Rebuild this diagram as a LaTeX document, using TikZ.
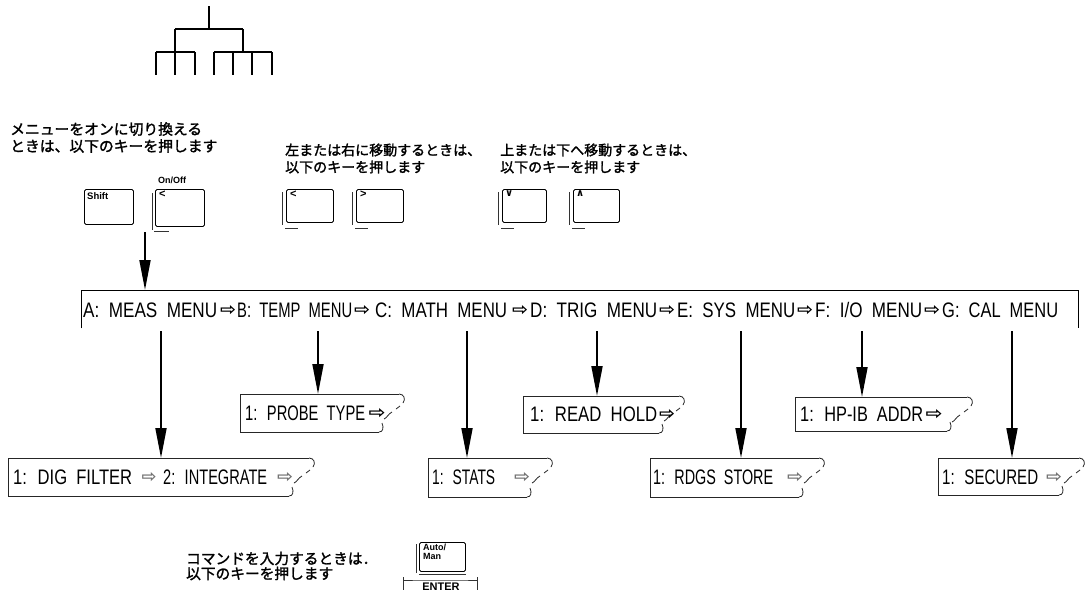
\documentclass[tikz,border=0pt]{standalone}
\usepackage{fontspec}
\usepackage{graphicx}
\usetikzlibrary{arrows.meta}
\setmainfont{Liberation Sans}
\newfontfamily\jp[FakeBold=1.6]{Noto Sans CJK JP}
\newfontfamily\dv{DejaVu Sans}
\newcommand{\fitt}[2]{\resizebox{#1pt}{\height}{\spaceskip 0.55em\relax #2}}
\newcommand{\rarr}[1]{\resizebox{#1pt}{10pt}{\dv\bfseries ⇨}}
\newcommand{\tabpath}[4]{%
 \draw[boxln] ({#3-6},#2) -- (#1,#2) -- (#1,#4) -- ({#3-26},#4);
 \draw[boxln] ({#3-6},#2) .. controls ({#3-1},#2) and ({#3+1},{#2+5}) .. ({#3-2},{#2+9});
 \draw[boxln] ({#3-5},{#2+12}) -- ({#3-9},{#2+15});
 \draw[boxln] ({#3-13},{#2+18}) .. controls ({#3-17},{#2+20}) and ({#3-18},{#2+24}) .. ({#3-21},{#2+25});
 \draw[boxln] ({#3-26},#4) .. controls ({#3-22},#4) and ({#3-21},{#4-4}) .. ({#3-23},{#4-9});
}
\begin{document}
\begin{tikzpicture}[x=1pt,y=-1pt,
  lbl/.style={inner sep=0pt, font=\fontsize{21}{24}\selectfont},
  faint/.style={inner sep=0pt, text=black!55},
  solidarr/.style={inner sep=0pt},
  arr/.style={line width=1.8pt, -{Triangle[length=30pt,width=11pt]}},
  boxln/.style={line width=0.8pt, black!85},
  tabnode/.style={inner sep=0pt, anchor=north west},
  keybox/.style={draw, line width=0.9pt, rounded corners=1.5pt, inner sep=0pt, anchor=north west},
  keyln/.style={line width=0.8pt, black!80},
  keylbl/.style={inner sep=0pt, anchor=north west, align=left, font=\bfseries\fontsize{8}{9}\selectfont},
  tree/.style={line width=1.4pt},
  jptext/.style={inner sep=0pt, anchor=west, align=left}
]
\fill[white] (0,0) rectangle (1087,592);
\useasboundingbox (0,0) rectangle (1087,592);

% tree icon
\draw[tree] (209,6) -- (209,29);
\draw[tree] (175,29) -- (243,29);
\draw[tree] (175,29) -- (175,75);
\draw[tree] (243,29) -- (243,52);
\draw[tree] (156,52) -- (195,52);
\draw[tree] (214,52) -- (272,52);
\foreach \xx in {156,195,214,233,252,272} \draw[tree] (\xx,52) -- (\xx,75);

% Japanese instructions
\node[jptext, font=\jp\fontsize{14.8}{17}\selectfont] (jp1) at (10,137.5) {メニューをオンに切り換える\\ときは、以下のキーを押します};
\node[jptext, font=\jp\fontsize{14}{17}\selectfont] (jp2) at (285,158.5) {左または右に移動するときは、\\以下のキーを押します};
\node[jptext, font=\jp\fontsize{14}{17}\selectfont] (jp3) at (500,158.5) {上または下へ移動するときは、\\以下のキーを押します};
\node[jptext, font=\jp\fontsize{14.7}{15}\selectfont] (jp4) at (186,566) {コマンドを入力するときは．\\以下のキーを押します};

% keys
\node[keybox, minimum width=49pt, minimum height=35pt] (kShift) at (84,189) {};
\node[keylbl, font=\bfseries\fontsize{9.5}{10}\selectfont] (lShift) at (87,192) {Shift};
\node[keybox, minimum width=49pt, minimum height=37pt] (kOn) at (155,189) {};
\node[keylbl, font=\bfseries\fontsize{11}{11}\selectfont] (lOn) at (159,191) {<};
\node[inner sep=0pt, font=\bfseries\fontsize{9}{10}\selectfont] (onoff) at (172,180) {On/Off};
\draw[keyln] ([xshift=-3pt,yshift=-4pt]kOn.north west) -- ([xshift=-3pt,yshift=-3pt]kOn.south west);
\draw[keyln] ([xshift=-1pt,yshift=-4pt]kOn.south west) -- ([xshift=14pt,yshift=-4pt]kOn.south west);

\node[keybox, minimum width=47pt, minimum height=33pt] (kL) at (286,189) {};
\node[keylbl, font=\bfseries\fontsize{11}{11}\selectfont] (lL) at (290,191) {<};
\node[keybox, minimum width=47pt, minimum height=33pt] (kR) at (356,189) {};
\node[keylbl, font=\bfseries\fontsize{11}{11}\selectfont] (lR) at (360,191) {>};
\node[keybox, minimum width=44pt, minimum height=33pt] (kD) at (502,189) {};
\node[keylbl, font=\dv\bfseries\fontsize{10}{10}\selectfont] (lD) at (505,191) {∨};
\node[keybox, minimum width=46pt, minimum height=33pt] (kU) at (573,189) {};
\node[keylbl, font=\dv\bfseries\fontsize{10}{10}\selectfont] (lU) at (576,191) {∧};
\foreach \k in {kL,kR,kD,kU}{
  \draw[keyln] ([xshift=-4pt,yshift=-3pt]\k.north west) -- ([xshift=-4pt,yshift=-2pt]\k.south west);
  \draw[keyln] ([xshift=-1pt,yshift=-5pt]\k.south west) -- ([xshift=12pt,yshift=-5pt]\k.south west);
}

% shift arrow
\coordinate (sh) at (145,232);

% menu bar
\node[inner sep=0pt, minimum width=997pt, minimum height=38pt, anchor=north west] (bar) at (81,290) {};
\draw[line width=1pt] (bar.south west) -- (bar.north west) -- (bar.north east) -- (bar.south east);
\draw[arr] (sh) -- (sh |- bar.north);

\node[lbl, anchor=base west] (mA) at (83,317) {\fitt{134}{A: MEAS MENU}};
\node[solidarr] (r1) at (228,310) {\rarr{16}};
\node[lbl, anchor=base west] (mB) at (237,317) {\fitt{115}{B: TEMP MENU}};
\node[solidarr] (r2) at (362,310) {\rarr{16}};
\node[lbl, anchor=base west] (mC) at (375,317) {\fitt{132}{C: MATH MENU}};
\node[solidarr] (r3) at (520,310) {\rarr{16}};
\node[lbl, anchor=base west] (mD) at (530,317) {\fitt{127}{D: TRIG MENU}};
\node[solidarr] (r4) at (667,310) {\rarr{16}};
\node[lbl, anchor=base west] (mE) at (677,317) {\fitt{118}{E: SYS MENU}};
\node[solidarr] (r5) at (805,310) {\rarr{16}};
\node[lbl, anchor=base west] (mF) at (815,317) {\fitt{107}{F: I/O MENU}};
\node[solidarr] (r6) at (932,310) {\rarr{16}};
\node[lbl, anchor=base west] (mG) at (942,317) {\fitt{116}{G: CAL MENU}};

% submenu boxes
\node[tabnode, minimum width=165pt, minimum height=38pt] (bProbe) at (240,394) {};
\tabpath{240}{394}{405}{432}
\node[lbl, anchor=base west] (tProbe) at (245,420) {\fitt{120}{1: PROBE TYPE}};
\node[solidarr] (rProbe) at (377,413) {\rarr{17}};

\node[tabnode, minimum width=162pt, minimum height=37pt] (bRead) at (523,396) {};
\tabpath{523}{396}{685}{433}
\node[lbl, anchor=base west] (tRead) at (530,421) {\fitt{127}{1: READ HOLD}};
\node[solidarr] (rRead) at (667,414) {\rarr{16}};

\node[tabnode, minimum width=178pt, minimum height=34pt] (bHP) at (795,397) {};
\tabpath{795}{397}{973}{431}
\node[lbl, anchor=base west] (tHP) at (800,421) {\fitt{123}{1: HP-IB ADDR}};
\node[solidarr] (rHP) at (934,414) {\rarr{17}};

\node[tabnode, minimum width=307pt, minimum height=38pt] (bDig) at (8,458) {};
\tabpath{8}{458}{315}{496}
\node[lbl, anchor=base west] (tDig) at (13,484) {\fitt{119}{1: DIG FILTER}};
\node[faint] (rDig) at (149,477) {\rarr{15}};
\node[lbl, anchor=base west] (tInt) at (163,484) {\fitt{104}{2: INTEGRATE}};
\node[faint] (rInt) at (285,477) {\rarr{16}};

\node[tabnode, minimum width=125pt, minimum height=39pt] (bStats) at (428,458) {};
\tabpath{428}{458}{553}{497}
\node[lbl, anchor=base west] (tStats) at (432,484) {\fitt{63}{1: STATS}};
\node[faint] (rStats) at (522,477) {\rarr{16}};

\node[tabnode, minimum width=175pt, minimum height=39pt] (bRdgs) at (650,458) {};
\tabpath{650}{458}{825}{497}
\node[lbl, anchor=base west] (tRdgs) at (653,484) {\fitt{120}{1: RDGS STORE}};
\node[faint] (rRdgs) at (795,477) {\rarr{16}};

\node[tabnode, minimum width=147pt, minimum height=37pt] (bSec) at (938,458) {};
\tabpath{938}{458}{1085}{495}
\node[lbl, anchor=base west] (tSec) at (942,484) {\fitt{96}{1: SECURED}};
\node[faint] (rSec) at (1054,477) {\rarr{16}};

% arrows from menu bar
\coordinate (aA) at (161,331);
\coordinate (aB) at (318,331);
\coordinate (aC) at (467,331);
\coordinate (aD) at (597,331);
\coordinate (aE) at (741,331);
\coordinate (aF) at (862,331);
\coordinate (aG) at (1012,331);
\draw[arr] (aA) -- (aA |- bDig.north);
\draw[arr] (aB) -- (aB |- bProbe.north);
\draw[arr] (aC) -- (aC |- bStats.north);
\draw[arr] (aD) -- (aD |- bRead.north);
\draw[arr] (aE) -- (aE |- bRdgs.north);
\draw[arr] (aF) -- (aF |- bHP.north);
\draw[arr] (aG) -- (aG |- bSec.north);

% Auto/Man key and ENTER
\node[keybox, minimum width=46pt, minimum height=29pt] (kAuto) at (419,542) {};
\draw[keyln] ([xshift=-3pt,yshift=-2pt]kAuto.north west) -- ([xshift=-3pt,yshift=-1pt]kAuto.south west);
\draw[keyln] ([xshift=0pt,yshift=-2pt]kAuto.south west) -- ([xshift=0pt,yshift=-2pt]kAuto.south east);
\node[keylbl, font=\bfseries\fontsize{9}{10}\selectfont] (lAuto) at (423,544) {Auto/\\[-1pt]Man};
\node[inner sep=0pt, font=\bfseries\fontsize{11}{11}\selectfont] (enter) at (441,587) {ENTER};
\draw[keyln] (403,577) -- (403,590);
\draw[keyln] (477,577) -- (477,590);
\draw[keyln] (403,580) -- (enter.north west |- 0,580) -- (enter.north east |- 0,580) -- (477,580);
\end{tikzpicture}
\end{document}
